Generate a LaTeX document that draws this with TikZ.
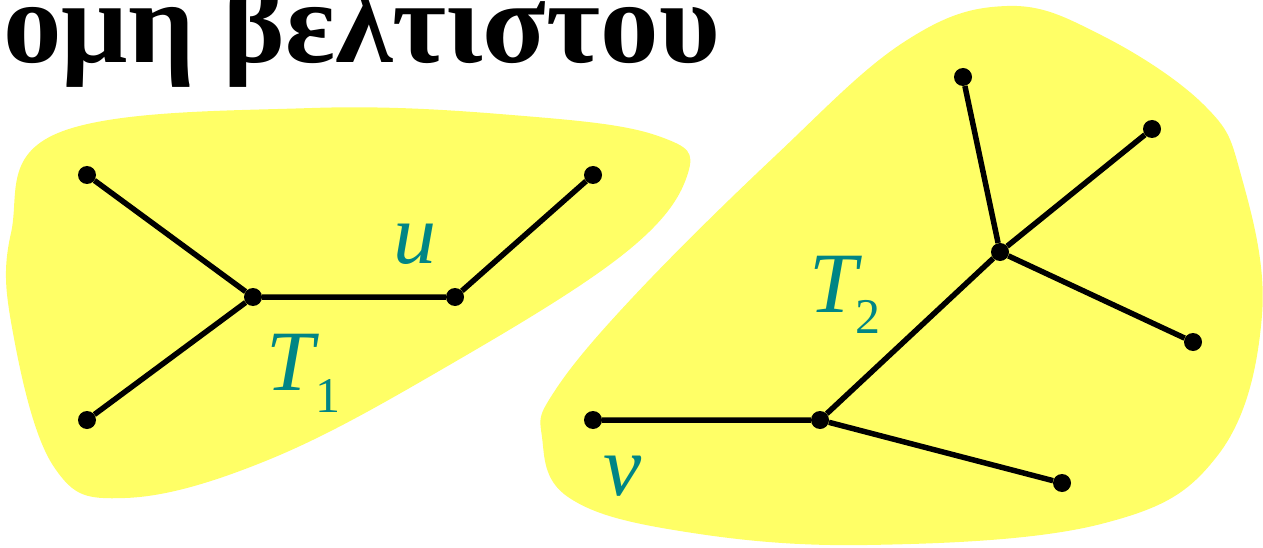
\documentclass[tikz,border=0pt]{standalone}
\usepackage{fontspec}
\setmainfont{Liberation Serif}
\definecolor{blob}{HTML}{FFFF66}
\definecolor{lab}{HTML}{008585}
\begin{document}
\begin{tikzpicture}[x=1pt,y=-1pt,
  dot/.style={circle,fill=black,inner sep=0pt,minimum size=18pt},
  edge/.style={line width=5.5pt},
  lbl/.style={text=lab,inner sep=0pt,font=\fontsize{86}{86}\selectfont\itshape},
  subl/.style={text=lab,inner sep=0pt,font=\fontsize{50}{50}\selectfont}]
\useasboundingbox (0,0) rectangle (1263,548);
\clip (0,0) rectangle (1263,548);
% blobs
\fill[blob] plot[smooth cycle,tension=0.65] coordinates {
 (312,108) (536,117) (661,137) (688,173) (625,253) (446,367) (268,460)
 (125,498) (54,467) (13,333) (11,233) (58,133)};
\fill[blob] plot[smooth cycle,tension=0.65] coordinates {
 (1007,6) (1101,35) (1204,105) (1241,175) (1262,315) (1218,455) (1101,524)
 (867,545) (680,531) (568,497) (542,437) (554,392) (633,297) (774,157) (904,42)};
% title
\node[anchor=base east,inner sep=0pt,font=\fontsize{117}{117}\selectfont\bfseries] (title) at (720,63) {Υποδομή βέλτιστου};
% tree T1
\node[dot] (a) at (87,175) {};
\node[dot] (b) at (87,420) {};
\node[dot] (c) at (253,297) {};
\node[dot] (u) at (455,297) {};
\node[dot] (d) at (593,175) {};
\draw[edge] (a) -- (c) -- (b);
\draw[edge] (c) -- (u) -- (d);
% tree T2
\node[dot] (v) at (593,420) {};
\node[dot] (e) at (820,420) {};
\node[dot] (f) at (1062,483) {};
\node[dot] (g) at (1000,252) {};
\node[dot] (h) at (963,77) {};
\node[dot] (i) at (1152,129) {};
\node[dot] (j) at (1193,342) {};
\draw[edge] (v) -- (e) -- (f);
\draw[edge] (e) -- (g);
\draw[edge] (h) -- (g) -- (i);
\draw[edge] (g) -- (j);
% labels
\node[lbl,anchor=base west] (ul) at (393,263) {u};
\node[lbl,anchor=base west] (t1) at (266,390) {T};
\node[subl,anchor=base west] (t1s) at (315,412) {1};
\node[lbl,anchor=base west] (vl) at (603,495) {v};
\node[lbl,anchor=base west] (t2) at (809,312) {T};
\node[subl,anchor=base west] (t2s) at (855,333) {2};
\end{tikzpicture}
\end{document}
